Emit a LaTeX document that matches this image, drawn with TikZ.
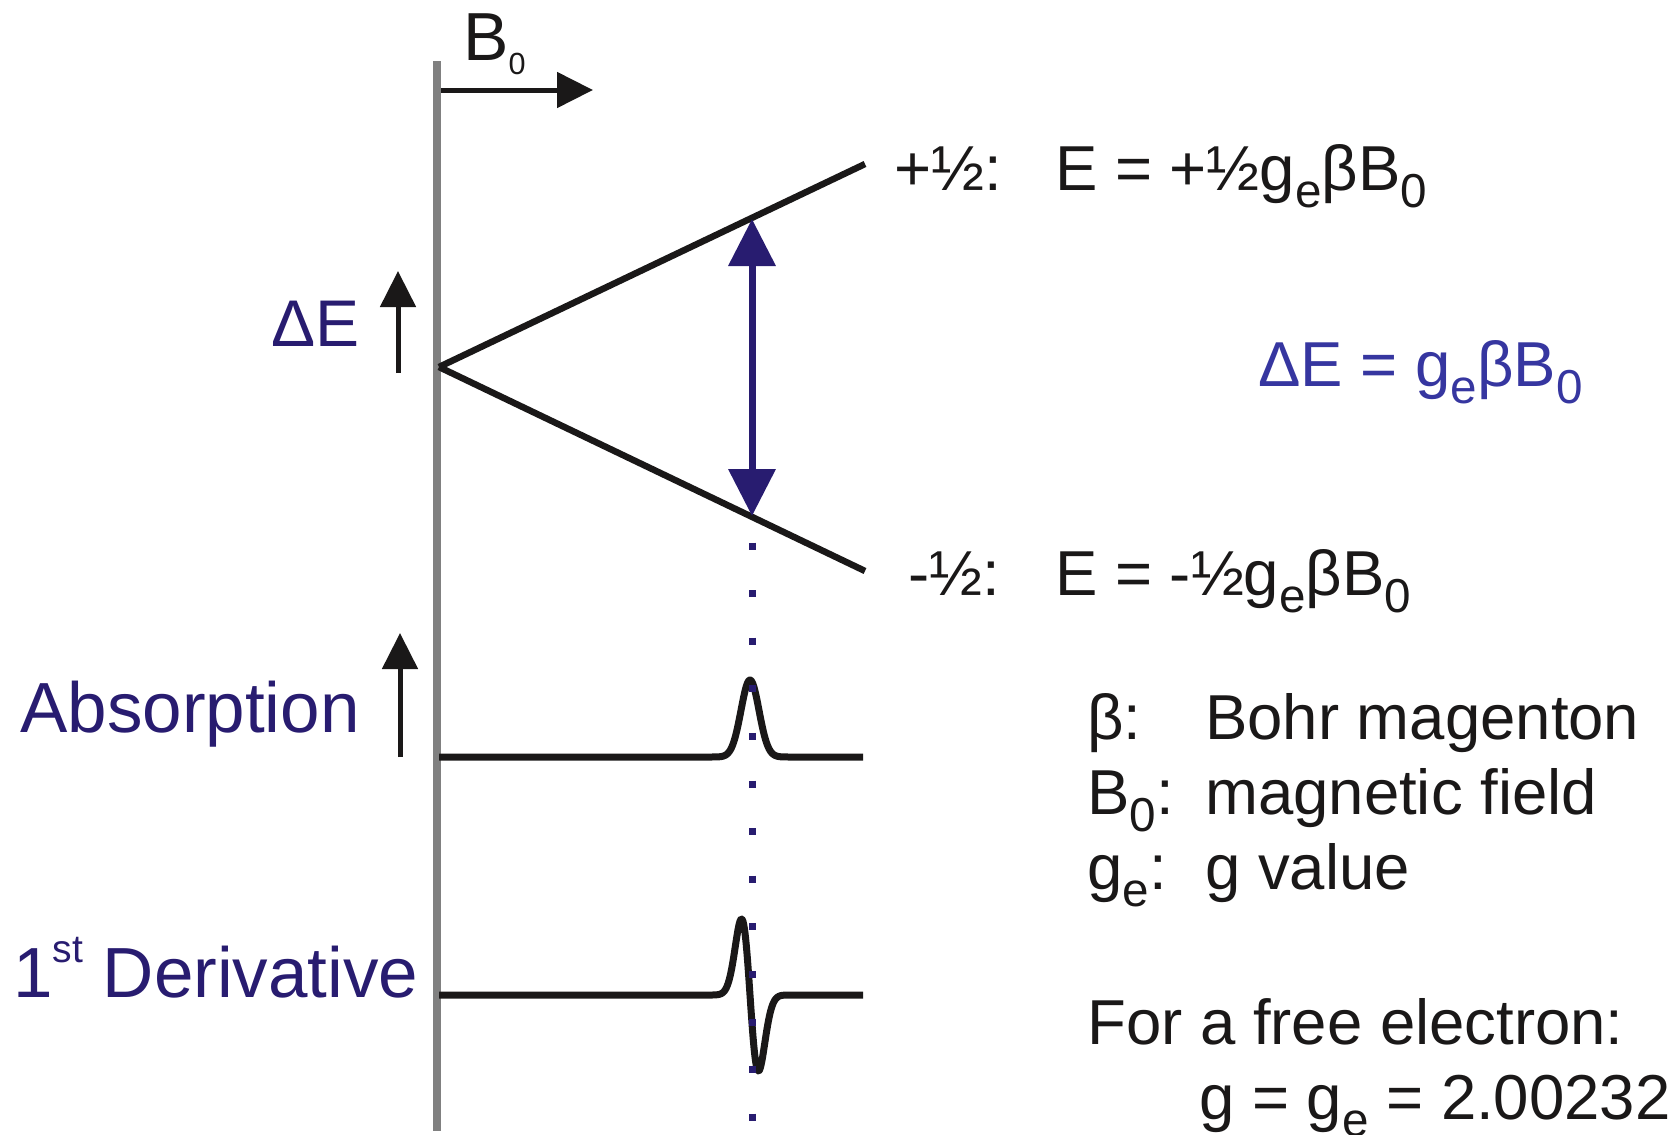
\documentclass[tikz,border=0pt]{standalone}
\usepackage{fontspec}
\usepackage{graphicx}
\setmainfont{Liberation Sans}
\usetikzlibrary{arrows.meta}
\definecolor{navy}{RGB}{40,28,112}
\definecolor{eqblue}{RGB}{54,54,160}
\definecolor{axisgray}{RGB}{128,128,128}
\definecolor{ink}{RGB}{26,24,24}
\newcommand\lsub[1]{\raisebox{-0.27em}{\scalebox{0.75}{#1}}}
\begin{document}
\begin{tikzpicture}[x=1pt,y=-1pt,
  txt/.style={anchor=base west, inner sep=0pt, font=\fontsize{63.5}{76}\selectfont, text=ink},
  lbl/.style={anchor=base west, inner sep=0pt, font=\fontsize{71}{84}\selectfont, text=navy},
  levelline/.style={draw=ink, line width=6.5pt},
  uparrow/.style={draw=ink, line width=5pt, -{Triangle[length=36pt,width=35pt]}},
  spec/.style={draw=ink, line width=7pt, line join=round},
]
\useasboundingbox (0,0) rectangle (1679,1135);

% coordinates
\coordinate (axtop) at (437,61);
\coordinate (axbot) at (437,1131);
\coordinate (bstart) at (441,90);
\coordinate (bend) at (593,90);
\coordinate (vtx) at (439,367);
\coordinate (upend) at (865,164);
\coordinate (loend) at (865,571);
\coordinate (tup) at (752,219);
\coordinate (tlo) at (752,516);
\coordinate (dtop) at (752,542.5);
\coordinate (dbot) at (752,1121);
\coordinate (dEa) at (398,373);
\coordinate (dEb) at (398,271);
\coordinate (aba) at (400,757);
\coordinate (abb) at (400,633);

% axis
\draw[axisgray, line width=8pt] (axtop) -- (axbot);
% B0 arrow
\draw[uparrow] (bstart) -- (bend);
\node[txt, font=\fontsize{68}{80}\selectfont] (b0) at (463,60) {B\raisebox{-14pt}{\scalebox{0.45}{0}}};

% energy levels
\draw[levelline] (vtx) -- (upend);
\draw[levelline] (vtx) -- (loend);

% transition arrow
\draw[navy, line width=7pt, {Triangle[length=47pt,width=46pt]}-{Triangle[length=47pt,width=46pt]}] (tup) -- (tlo);

% left arrows
\draw[uparrow] (dEa) -- (dEb);
\draw[uparrow] (aba) -- (abb);

% left labels
\node[lbl, font=\fontsize{66}{78}\selectfont] (dE) at (271,346) {ΔE};
\node[lbl] (abs) at (20,732) {Absorption};
\node[lbl] (der) at (13,997) {1\raisebox{35pt}{\scalebox{0.55}{st}} Derivative};

% spectra
\draw[spec] (439,757) -- plot[domain=700:800, samples=121] (\x, {757-77*exp(-0.5*((\x-750)/9)^2)}) -- (863,757);
\draw[spec] (439,995) -- plot[domain=700:800, samples=161] (\x, {995+76*((\x-750)/8.5)*exp(0.5-0.5*((\x-750)/8.5)^2)}) -- (863,995);

% dotted guide
\draw[navy, line width=7pt, dash pattern=on 7pt off 40.6pt] (dtop) -- (dbot);

% level labels
\node[txt] (pl) at (894,190) {+½:};
\node[txt] (pe) at (1055,190) {E = +½g\lsub{e}βB\lsub{0}};
\node[txt] (ml) at (908,595) {-½:};
\node[txt] (me) at (1055,595) {E = -½g\lsub{e}βB\lsub{0}};

% blue equation
\node[txt, text=eqblue] (eq) at (1258,386) {ΔE = g\lsub{e}βB\lsub{0}};

% legend
\node[txt] (k1) at (1087,739) {β:};
\node[txt] (v1) at (1205,739) {Bohr magenton};
\node[txt] (k2) at (1087,814) {B\lsub{0}:};
\node[txt] (v2) at (1205,814) {magnetic field};
\node[txt] (k3) at (1087,889) {g\lsub{e}:};
\node[txt] (v3) at (1205,889) {g value};

\node[txt] (f1) at (1087,1044) {For a free electron:};
\node[txt] (f2) at (1199,1119) {g = g\lsub{e} = 2.00232};
\end{tikzpicture}
\end{document}
